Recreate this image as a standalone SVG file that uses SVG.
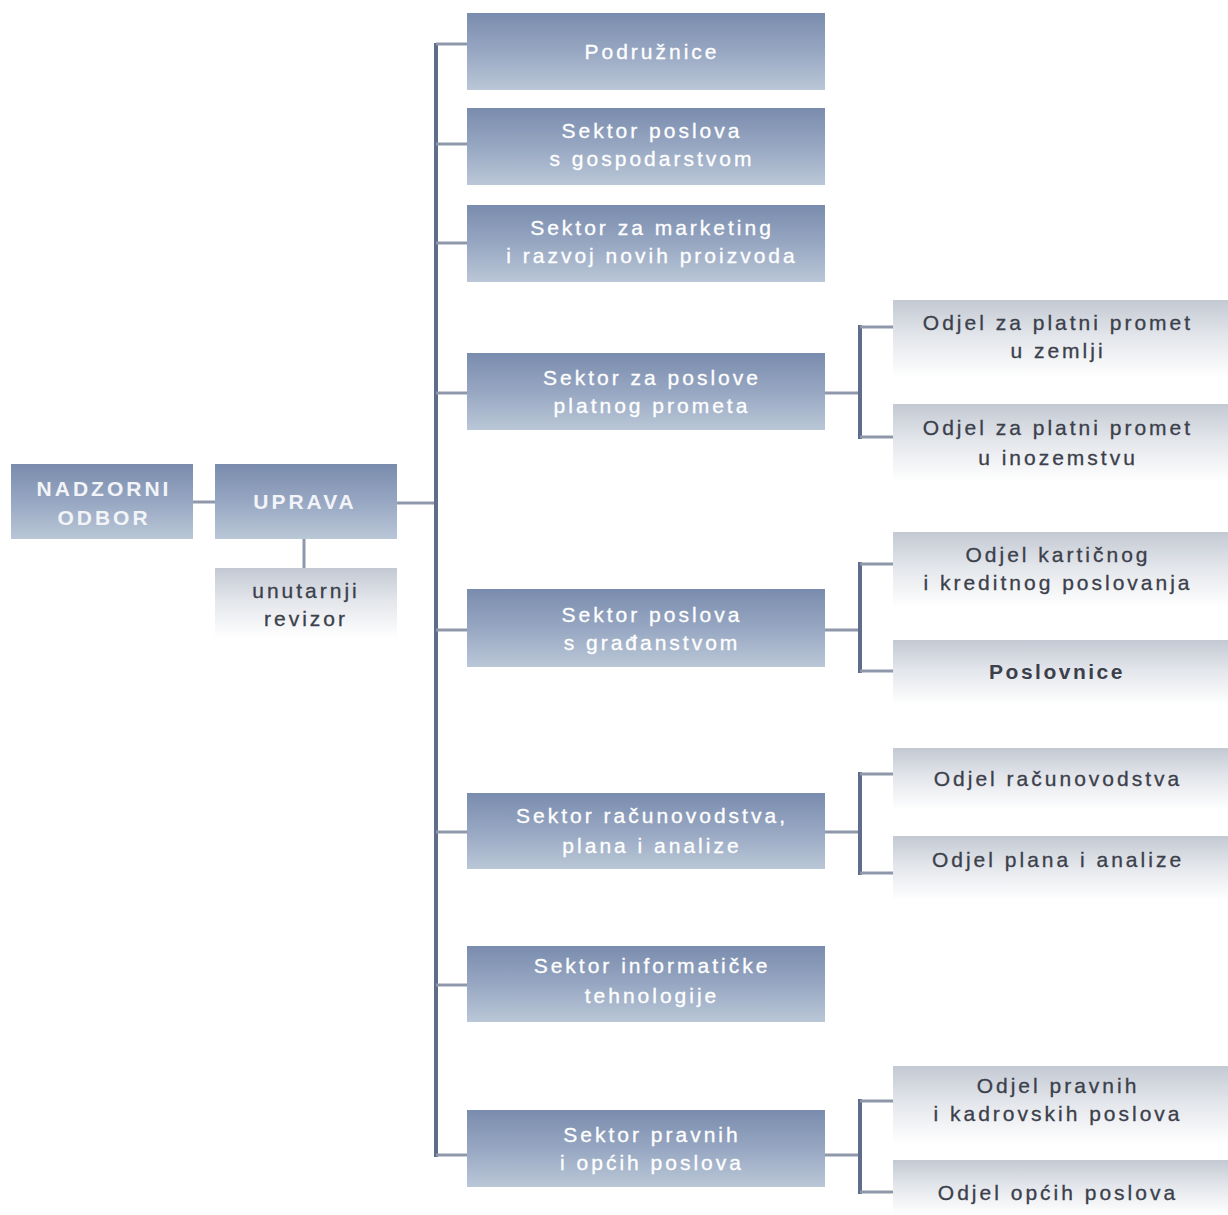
<svg xmlns="http://www.w3.org/2000/svg" width="1228" height="1215" viewBox="0 0 1228 1215">
<defs>
<linearGradient id="gBlue" x1="0" y1="0" x2="0" y2="1">
<stop offset="0" stop-color="#7a8cae"/>
<stop offset="0.5" stop-color="#97a7c2"/>
<stop offset="1" stop-color="#bac7d7"/>
</linearGradient>
<linearGradient id="gGray" x1="0" y1="0" x2="0" y2="1">
<stop offset="0" stop-color="#c3c9d3"/>
<stop offset="0.45" stop-color="#e2e5ea"/>
<stop offset="1" stop-color="#ffffff"/>
</linearGradient>
<style>
.b{fill:url(#gBlue);}
.g{fill:url(#gGray);}
.tw{font-family:"Liberation Sans",Arial,sans-serif;font-size:21px;fill:#ffffff;text-anchor:middle;letter-spacing:3px;stroke:#ffffff;stroke-width:0.3px;}
.twb{font-family:"Liberation Sans",Arial,sans-serif;font-size:21px;fill:#f2f4f8;text-anchor:middle;letter-spacing:3px;font-weight:bold;}
.td{font-family:"Liberation Sans",Arial,sans-serif;font-size:21px;fill:#3b404b;text-anchor:middle;letter-spacing:3px;stroke:#3b404b;stroke-width:0.3px;}
.tdb{font-family:"Liberation Sans",Arial,sans-serif;font-size:21px;fill:#3b404b;text-anchor:middle;letter-spacing:2.5px;font-weight:bold;}
.trunk{stroke:#5f6d8c;stroke-width:4;fill:none;}
.br{stroke:#8e98aa;stroke-width:3;fill:none;}
</style>
</defs>
<rect width="1228" height="1215" fill="#ffffff"/>
<g id="connectors">
<line class="br" x1="193" y1="502" x2="215" y2="502"/>
<line class="br" x1="304" y1="539" x2="304" y2="568"/>
<line class="br" x1="397" y1="503" x2="436" y2="503"/>
<line class="trunk" x1="436" y1="43" x2="436" y2="1157"/>
<line class="br" x1="436" y1="44" x2="467" y2="44"/>
<line class="br" x1="436" y1="144" x2="467" y2="144"/>
<line class="br" x1="436" y1="243" x2="467" y2="243"/>
<line class="br" x1="436" y1="393" x2="467" y2="393"/>
<line class="br" x1="436" y1="630" x2="467" y2="630"/>
<line class="br" x1="436" y1="832" x2="467" y2="832"/>
<line class="br" x1="436" y1="985" x2="467" y2="985"/>
<line class="br" x1="436" y1="1155" x2="467" y2="1155"/>
<line class="br" x1="825" y1="393" x2="860" y2="393"/>
<line class="trunk" x1="860" y1="325" x2="860" y2="439"/>
<line class="br" x1="860" y1="327" x2="893" y2="327"/>
<line class="br" x1="860" y1="437" x2="893" y2="437"/>
<line class="br" x1="825" y1="630" x2="860" y2="630"/>
<line class="trunk" x1="860" y1="562" x2="860" y2="673"/>
<line class="br" x1="860" y1="564" x2="893" y2="564"/>
<line class="br" x1="860" y1="671" x2="893" y2="671"/>
<line class="br" x1="825" y1="832" x2="860" y2="832"/>
<line class="trunk" x1="860" y1="772" x2="860" y2="875"/>
<line class="br" x1="860" y1="774" x2="893" y2="774"/>
<line class="br" x1="860" y1="873" x2="893" y2="873"/>
<line class="br" x1="825" y1="1155" x2="860" y2="1155"/>
<line class="trunk" x1="860" y1="1099" x2="860" y2="1194"/>
<line class="br" x1="860" y1="1101" x2="893" y2="1101"/>
<line class="br" x1="860" y1="1192" x2="893" y2="1192"/>
</g>
<g id="nadzorni"><rect class="b" x="11" y="464" width="182" height="75"/><text class="twb" x="104" y="496">NADZORNI</text><text class="twb" x="104" y="525">ODBOR</text></g>
<g id="uprava"><rect class="b" x="215" y="464" width="182" height="75"/><text class="twb" x="305" y="509">UPRAVA</text></g>
<g id="revizor"><rect class="g" x="215" y="568" width="182" height="70"/><text class="td" x="306" y="598">unutarnji</text><text class="td" x="306" y="626">revizor</text></g>
<g id="podruznice"><rect class="b" x="467" y="13" width="358" height="77"/><text class="tw" x="652" y="59">Podružnice</text></g>
<g id="gospodarstvo"><rect class="b" x="467" y="108" width="358" height="77"/><text class="tw" x="652" y="138">Sektor poslova</text><text class="tw" x="652" y="166">s gospodarstvom</text></g>
<g id="marketing"><rect class="b" x="467" y="205" width="358" height="77"/><text class="tw" x="652" y="235">Sektor za marketing</text><text class="tw" x="652" y="263">i razvoj novih proizvoda</text></g>
<g id="platni"><rect class="b" x="467" y="353" width="358" height="77"/><text class="tw" x="652" y="385">Sektor za poslove</text><text class="tw" x="652" y="413">platnog prometa</text></g>
<g id="gradjanstvo"><rect class="b" x="467" y="589" width="358" height="78"/><text class="tw" x="652" y="622">Sektor poslova</text><text class="tw" x="652" y="650">s građanstvom</text></g>
<g id="racunovodstvo"><rect class="b" x="467" y="793" width="358" height="76"/><text class="tw" x="652" y="823">Sektor računovodstva,</text><text class="tw" x="652" y="853">plana i analize</text></g>
<g id="informatika"><rect class="b" x="467" y="946" width="358" height="76"/><text class="tw" x="652" y="973">Sektor informatičke</text><text class="tw" x="652" y="1003">tehnologije</text></g>
<g id="pravni"><rect class="b" x="467" y="1110" width="358" height="77"/><text class="tw" x="652" y="1142">Sektor pravnih</text><text class="tw" x="652" y="1170">i općih poslova</text></g>
<g id="zemlja"><rect class="g" x="893" y="300" width="335" height="78"/><text class="td" x="1058" y="330">Odjel za platni promet</text><text class="td" x="1058" y="358">u zemlji</text></g>
<g id="inozemstvo"><rect class="g" x="893" y="404" width="335" height="78"/><text class="td" x="1058" y="435">Odjel za platni promet</text><text class="td" x="1058" y="465">u inozemstvu</text></g>
<g id="karticno"><rect class="g" x="893" y="532" width="335" height="75"/><text class="td" x="1058" y="562">Odjel kartičnog</text><text class="td" x="1058" y="590">i kreditnog poslovanja</text></g>
<g id="poslovnice"><rect class="g" x="893" y="640" width="335" height="65"/><text class="tdb" x="1057" y="679">Poslovnice</text></g>
<g id="odjelracun"><rect class="g" x="893" y="748" width="335" height="62"/><text class="td" x="1058" y="786">Odjel računovodstva</text></g>
<g id="odjelplan"><rect class="g" x="893" y="836" width="335" height="64"/><text class="td" x="1058" y="867">Odjel plana i analize</text></g>
<g id="odjelpravni"><rect class="g" x="893" y="1066" width="335" height="78"/><text class="td" x="1058" y="1093">Odjel pravnih</text><text class="td" x="1058" y="1121">i kadrovskih poslova</text></g>
<g id="odjelopci"><rect class="g" x="893" y="1160" width="335" height="55"/><text class="td" x="1058" y="1200">Odjel općih poslova</text></g>
</svg>
